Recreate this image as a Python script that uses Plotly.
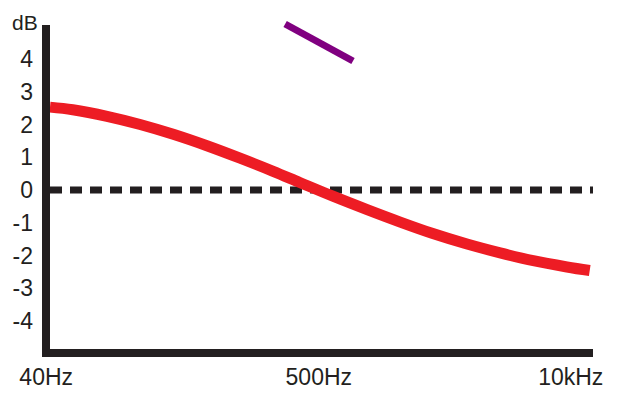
import plotly.graph_objects as go

# Curve positions along the (schematic, log-frequency) axis, 0..100 = left..right end
curve_pos = [0, 4.2, 10.5, 16.6, 22.7, 28.9, 35.0, 41.1, 46.0, 52.1, 58.4, 64.5, 70.5, 76.8, 82.9, 89.0, 95.2, 99.4]
curve_db = [2.53, 2.45, 2.25, 2.00, 1.70, 1.35, 0.97, 0.57, 0.23, -0.19, -0.60, -0.98, -1.33, -1.65, -1.92, -2.16, -2.35, -2.46]

ref_pos = [0, 100]
ref_db = [0, 0]

tilt_pos = [43.3, 55.8]
tilt_db = [5.07, 3.94]

x_tick_pos = [-0.7, 49.5, 95.9]
x_tick_text = ["40Hz", "500Hz", "10kHz"]
y_tick_vals = [4, 3, 2, 1, 0, -1, -2, -3, -4]
y_tick_text = ["4", "3", "2", "1", "0", "-1", "-2", "-3", "-4"]

W, H = 621, 411
ML, MR, MT, MB = 46, 28, 12, 62
PW, PH = W - ML - MR, H - MT - MB
AX = "#231f20"
FONT = dict(family="Liberation Sans, Arial, sans-serif", size=23, color="#231f20")

fig = go.Figure()
fig.add_trace(go.Scatter(x=ref_pos, y=ref_db, mode="lines",
                         line=dict(color=AX, width=7, dash="12px,8px"),
                         hoverinfo="skip", showlegend=False))
fig.add_trace(go.Scatter(x=curve_pos, y=curve_db, mode="lines",
                         line=dict(color="#ed1c24", width=11, shape="spline", smoothing=1.0),
                         showlegend=False))
fig.add_trace(go.Scatter(x=tilt_pos, y=tilt_db, mode="lines",
                         line=dict(color="#800080", width=7),
                         showlegend=False))

fig.update_layout(
    width=W, height=H, autosize=False,
    margin=dict(l=ML, r=MR, t=MT, b=MB, pad=0, autoexpand=False),
    paper_bgcolor="white", plot_bgcolor="white",
    font=FONT,
    xaxis=dict(range=[-0.737, 100], showgrid=False, zeroline=False, automargin=False,
               showline=True, linewidth=8, linecolor=AX,
               tickmode="array", tickvals=x_tick_pos, ticktext=x_tick_text,
               ticks="", ticklabelstandoff=0, tickfont=FONT, fixedrange=True),
    yaxis=dict(range=[-4.855, 5.435], showgrid=False, zeroline=False, automargin=False,
               showline=False,
               tickmode="array", tickvals=y_tick_vals, ticktext=y_tick_text,
               ticks="", ticklabelstandoff=12, tickfont=FONT, fixedrange=True),
    shapes=[dict(type="line", xref="paper", yref="paper",
                 x0=0, x1=0, y0=-8 / PH, y1=(PH - (25 - MT)) / PH,
                 line=dict(color=AX, width=8), layer="above")],
    annotations=[dict(text="dB", xref="paper", yref="paper",
                      x=(25 - ML) / PW, y=(PH - (22 - MT)) / PH,
                      xanchor="center", yanchor="middle", showarrow=False,
                      font=dict(FONT, size=21))],
)

fig.write_html("out.html", config={"displayModeBar": False},
               post_script="document.body.style.margin='0';document.body.style.overflow='hidden';")
